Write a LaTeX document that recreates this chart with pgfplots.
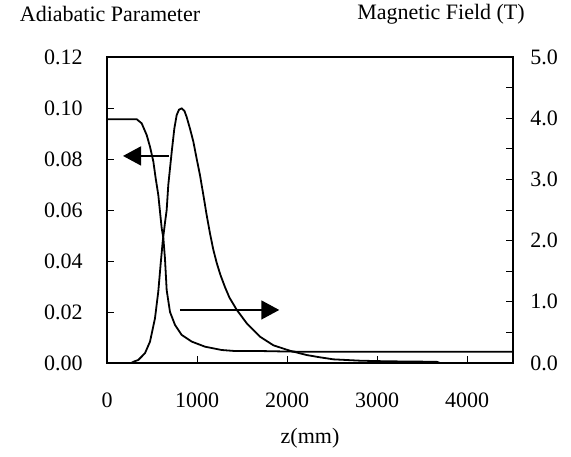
\documentclass[border=0pt]{standalone}
\usepackage{fontspec}
\setmainfont{Liberation Serif}
\usepackage{pgfplots}
\pgfplotsset{compat=1.18}
\usetikzlibrary{arrows.meta}

% adiabatic parameter vs z (left axis)
\pgfplotstableread{
z      A
0      0.0956
330    0.0956
385    0.0940
441    0.0894
478    0.0848
515    0.0790
541    0.0724
570    0.0659
589    0.0593
608    0.0528
626    0.0490
644    0.0410
663    0.0286
700    0.0200
756    0.0149
830    0.0110
941    0.0084
1089   0.0064
1274   0.0051
1422   0.0047
1700   0.0047
2000   0.0045
2200   0.0044
4511   0.0044
}\adiab

% magnetic field vs z (right axis)
\pgfplotstableread{
z      B
0      0
270    0
293    0.02
348    0.05
422    0.16
478    0.35
533    0.73
570    1.17
595    1.60
620    2.00
645    2.30
663    2.50
681    2.91
700    3.18
719    3.45
748    3.83
774    4.05
800    4.14
830    4.16
860    4.12
885    4.02
922    3.83
959    3.62
996    3.34
1033   3.07
1070   2.75
1107   2.42
1144   2.12
1180   1.86
1218   1.64
1260   1.44
1311   1.24
1360   1.07
1441   0.87
1552   0.65
1700   0.43
1848   0.29
2033   0.20
2219   0.13
2367   0.093
2515   0.06
2811   0.038
3107   0.028
3663   0.02
3700   0
4511   0
}\bfield

\pgfplotsset{
  common/.style={
    scale only axis, width=203pt, height=153pt,
    at={(0pt,0pt)}, anchor=south west,
    xmin=0, xmax=4511,
    tick align=inside, major tick length=3.5pt, minor tick length=3.5pt,
    axis line style={line width=0.9pt}, every tick/.style={line width=0.5pt, black},
    tick label style={font=\fontsize{11}{13}\selectfont},
    /pgf/number format/assume math mode=true,
  },
}

\begin{document}
\begin{tikzpicture}
\begin{axis}[common,
  ymin=0, ymax=0.12,
  xtick={0,1000,...,4000}, xtick pos=bottom,
  ytick={0,0.02,...,0.12}, ytick pos=left,
  xticklabel style={/pgf/number format/1000 sep={}, anchor=north, inner sep=0pt, yshift=-14.5pt},
  yticklabel style={/pgf/number format/.cd, fixed, fixed zerofill, precision=2,
    /tikz/.cd, anchor=east, inner sep=0pt, xshift=-12pt},
  xlabel={z(mm)},
  every axis x label/.style={at={(axis description cs:0.5,0)}, anchor=center, yshift=-37.5pt, font=\fontsize{11}{13}\selectfont},
]
\addplot[black, line width=0.9pt, sharp plot] table[x=z, y=A] {\adiab};
\draw[line width=0.8pt, -{Triangle[length=9pt,width=9.5pt]}] (axis cs:690,0.0812) -- (axis cs:178,0.0812);
\draw[line width=0.8pt, -{Triangle[length=9pt,width=9.5pt]}] (axis cs:811,0.0208) -- (axis cs:1914,0.0208);
\end{axis}
\begin{axis}[common,
  ymin=0, ymax=5,
  axis x line=none, axis y line*=right,
  ytick={0,1,...,5}, minor ytick={0.5,1.5,...,4.5},
  yticklabel style={/pgf/number format/.cd, fixed, fixed zerofill, precision=1,
    /tikz/.cd, anchor=west, inner sep=0pt, xshift=8.5pt},
]
\addplot[black, line width=0.9pt, sharp plot] table[x=z, y=B] {\bfield};
\end{axis}
\node[font=\fontsize{11}{13}\selectfont] at (1.5pt,174.5pt) {Adiabatic Parameter};
\node[font=\fontsize{11}{13}\selectfont] at (167pt,174.5pt) {Magnetic Field (T)};
\pgfresetboundingbox
\path (-53.5pt,-46.5pt) rectangle (232pt,181.5pt);
\end{tikzpicture}
\end{document}
